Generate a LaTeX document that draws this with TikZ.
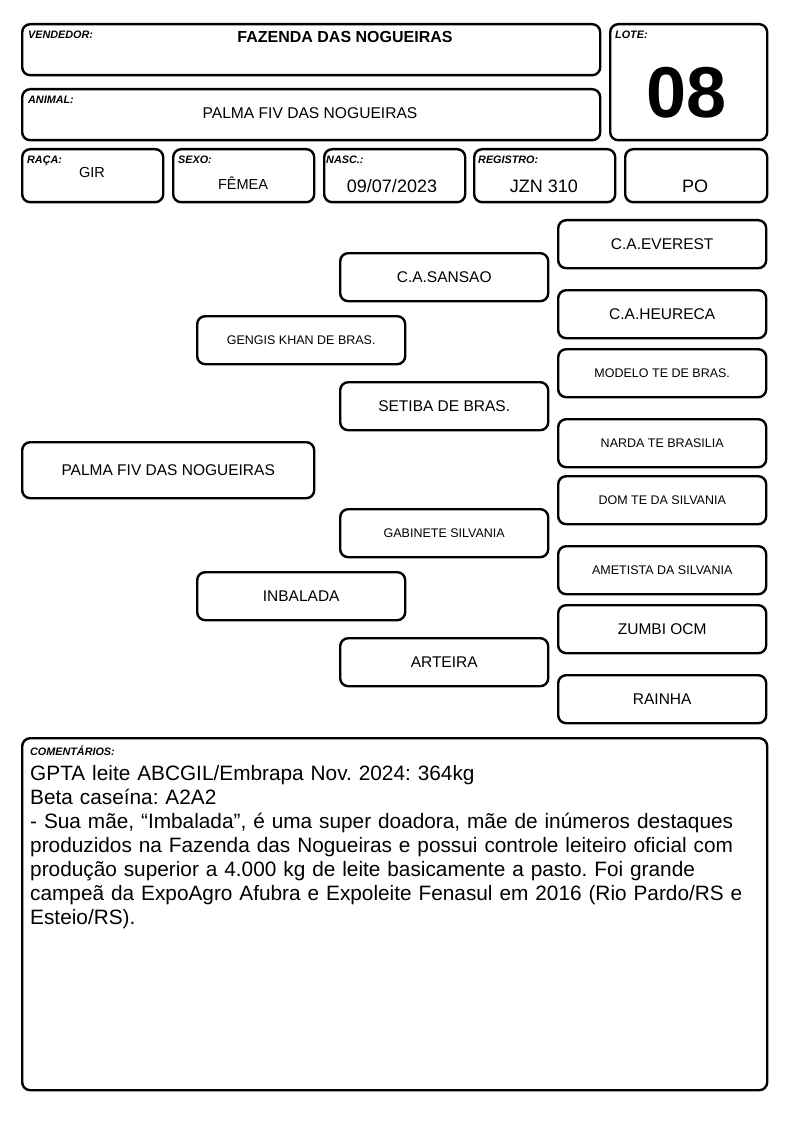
\documentclass[tikz,border=0pt]{standalone}
\usepackage{fontspec}
\setmainfont{Liberation Sans}
\frenchspacing
\usetikzlibrary{positioning}
\tikzset{
cardbox/.style={
  draw=black,
  line width=2.4pt,
  rounded corners=8pt,
  inner sep=0pt,
  anchor=north west,
  }
}
\tikzset{
pedbox/.style={
  cardbox,
  minimum width=208pt,
  minimum height=48pt,
  font=\fontsize{15.5}{18}\selectfont,
  },
pedsmall/.style={
  pedbox,
  font=\fontsize{12.5}{15}\selectfont,
  },
fieldlabel/.style={
  anchor=north west,
  inner sep=0pt,
  font=\fontsize{10.8}{12}\selectfont\bfseries\itshape,
  },
fieldvalue/.style={
  anchor=base,
  inner sep=0pt,
  font=\fontsize{18}{21}\selectfont,
  }
}

\begin{document}
\begin{tikzpicture}[x=1pt,y=-1pt]
    \fill[white] (0,0) rectangle (794,1123);
    \useasboundingbox (0,0) rectangle (794,1123);

    % header boxes
    \node[cardbox, minimum width=578pt, minimum height=51pt] (vend) at (21,23) {};
    \node[cardbox, minimum width=578pt, minimum height=51pt] (anim) at (21,88) {};
    \node[cardbox, minimum width=157pt, minimum height=116pt] (lote) at (609,23) {};
    \node[cardbox, minimum width=141pt, minimum height=53pt] (raca) at (21,148) {};
    \node[cardbox, minimum width=141pt, minimum height=53pt] (sexo) at (172,148) {};
    \node[cardbox, minimum width=141pt, minimum height=53pt] (nasc) at (323,148) {};
    \node[cardbox, minimum width=141pt, minimum height=53pt] (reg) at (473,148) {};
    \node[cardbox, minimum width=142pt, minimum height=53pt] (po) at (624,148) {};

    % header labels
    \node[fieldlabel] (vendlbl) at (28,31) {VENDEDOR:};
    \node[fieldlabel] (animlbl) at (28,96) {ANIMAL:};
    \node[fieldlabel] (lotelbl) at (615,31) {LOTE:};
    \node[fieldlabel] (racalbl) at (27,156) {RAÇA:};
    \node[fieldlabel] (sexolbl) at (178,156) {SEXO:};
    \node[fieldlabel] (nasclbl) at (326,156) {NASC.:};
    \node[fieldlabel] (reglbl) at (478,156) {REGISTRO:};

    % header values
    \node[fieldvalue, font=\fontsize{16}{19}\selectfont\bfseries] (vendname) at (345,43) {FAZENDA DAS NOGUEIRAS};
    \node[fieldvalue, font=\fontsize{15.6}{19}\selectfont] (animname) at (310,119) {PALMA FIV DAS NOGUEIRAS};
    \node[fieldvalue, font=\fontsize{72}{72}\selectfont\bfseries] (lotenum) at (687,118) {08};
    \node[fieldvalue, font=\fontsize{14.5}{17}\selectfont] (racaval) at (92,178) {GIR};
    \node[fieldvalue, font=\fontsize{14.5}{17}\selectfont] (sexoval) at (243,190) {FÊMEA};
    \node[fieldvalue] (nascval) at (392,193) {09/07/2023};
    \node[fieldvalue] (regval) at (544,193) {JZN 310};
    \node[fieldvalue] (poval) at (695,193) {PO};

    % pedigree
    \node[pedbox, minimum width=292pt, minimum height=56pt] (animal) at (21,441) {PALMA FIV DAS NOGUEIRAS};
    \node[pedsmall] (pai) at (196,315) {GENGIS KHAN DE BRAS.};
    \node[pedbox] (mae) at (196,571) {INBALADA};
    \node[pedbox] (avop) at (339,252) {C.A.SANSAO};
    \node[pedbox] (avop2) at (339,381) {SETIBA DE BRAS.};
    \node[pedsmall] (avom) at (339,508) {GABINETE SILVANIA};
    \node[pedbox] (avom2) at (339,637) {ARTEIRA};
    \node[pedbox] (bis1) at (557,219) {C.A.EVEREST};
    \node[pedbox] (bis2) at (557,289) {C.A.HEURECA};
    \node[pedsmall] (bis3) at (557,348) {MODELO TE DE BRAS.};
    \node[pedsmall] (bis4) at (557,418) {NARDA TE BRASILIA};
    \node[pedsmall] (bis5) at (557,475) {DOM TE DA SILVANIA};
    \node[pedsmall] (bis6) at (557,545) {AMETISTA DA SILVANIA};
    \node[pedbox] (bis7) at (557,604) {ZUMBI OCM};
    \node[pedbox] (bis8) at (557,674) {RAINHA};

    % comments
    \node[cardbox, minimum width=745pt, minimum height=352pt] (coment) at (21,737) {};
    \node[fieldlabel] (comentlbl) at (30,746) {COMENTÁRIOS:};
    \node[anchor=north west, inner sep=0pt, text width=735pt, align=left,
          font=\fontsize{20.8}{24}\selectfont] (comenttxt) at (30,765)
      {GPTA leite ABCGIL/Embrapa Nov. 2024: 364kg\\
       Beta caseína: A2A2\\
       - Sua mãe, “Imbalada”, é uma super doadora, mãe de inúmeros destaques\\
       produzidos na Fazenda das Nogueiras e possui controle leiteiro oficial com\\
       produção superior a 4.000 kg de leite basicamente a pasto. Foi grande\\
       campeã da ExpoAgro Afubra e Expoleite Fenasul em 2016 (Rio Pardo/RS e\\
       Esteio/RS).};
\end{tikzpicture}
\end{document}
